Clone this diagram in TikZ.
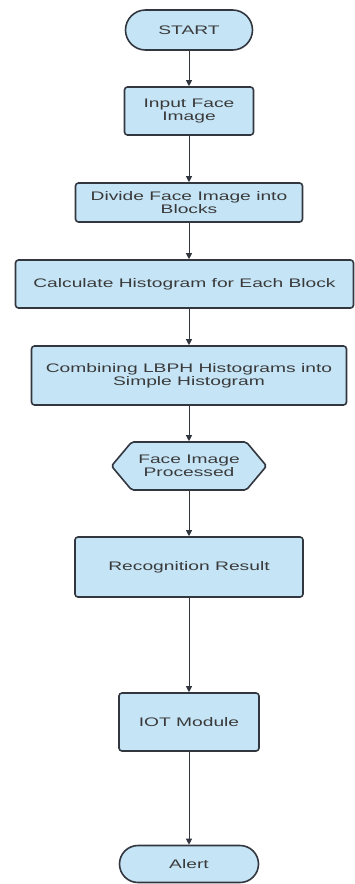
\documentclass[tikz,border=0pt]{standalone}
\usepackage{fontspec}
\newfontfamily\chartfont[FakeStretch=1.55]{Liberation Sans}
\usetikzlibrary{arrows.meta,shapes.misc,shapes.symbols}
\definecolor{boxfill}{RGB}{197,229,247}
\definecolor{boxline}{RGB}{50,54,62}
\definecolor{boxtext}{RGB}{58,58,58}
\begin{document}
\begin{tikzpicture}[x=1pt,y=-1pt,
    base/.style={draw=boxline,fill=boxfill,line width=1.6pt,text=boxtext,align=center,
        font=\chartfont\fontsize{12.4}{12.8}\selectfont,inner sep=2pt},
    terminal/.style={base,rounded rectangle,minimum height=#1},
    terminal/.default=40pt,
    process/.style={base,rectangle,rounded corners=3pt},
    prepare/.style={base,signal,signal to=west and east,signal pointer angle=100,rounded corners=2pt},
    flow/.style={draw=boxline,line width=0.9pt,-{Triangle[width=6pt,length=6pt]}}]
    \useasboundingbox(0,0)rectangle(354,884);
    \node[terminal,minimum width=131pt](start)at(189,30){START};
    \node[process,minimum width=129pt,minimum height=48pt](input)at(189,111){Input Face\\Image};
    \node[process,minimum width=227pt,minimum height=39pt](divide)at(189,202.5){Divide Face Image into\\Blocks};
    \node[process,minimum width=338pt,minimum height=48pt](calc)at(184.5,284){Calculate Histogram for Each Block};
    \node[process,minimum width=315pt,minimum height=59pt](combine)at(189,375.5){Combining LBPH Histograms into\\Simple Histogram};
    \node[prepare,minimum width=155pt,minimum height=48pt](processed)at(189,466){Face Image\\Processed};
    \node[process,minimum width=228pt,minimum height=60pt](result)at(189,567){Recognition Result};
    \node[process,minimum width=140pt,minimum height=58pt](iot)at(189,722){IOT Module};
    \node[terminal=37pt,minimum width=143pt](alert)at(189,864){Alert};
    % connectors all run on the vertical line through start
    \foreach \a/\b in {start/input,input/divide,divide/calc,calc/combine,combine/processed,processed/result,result/iot,iot/alert}
        {\draw[flow](\a.south-|start)--(\b.north-|start);}
\end{tikzpicture}
\end{document}
